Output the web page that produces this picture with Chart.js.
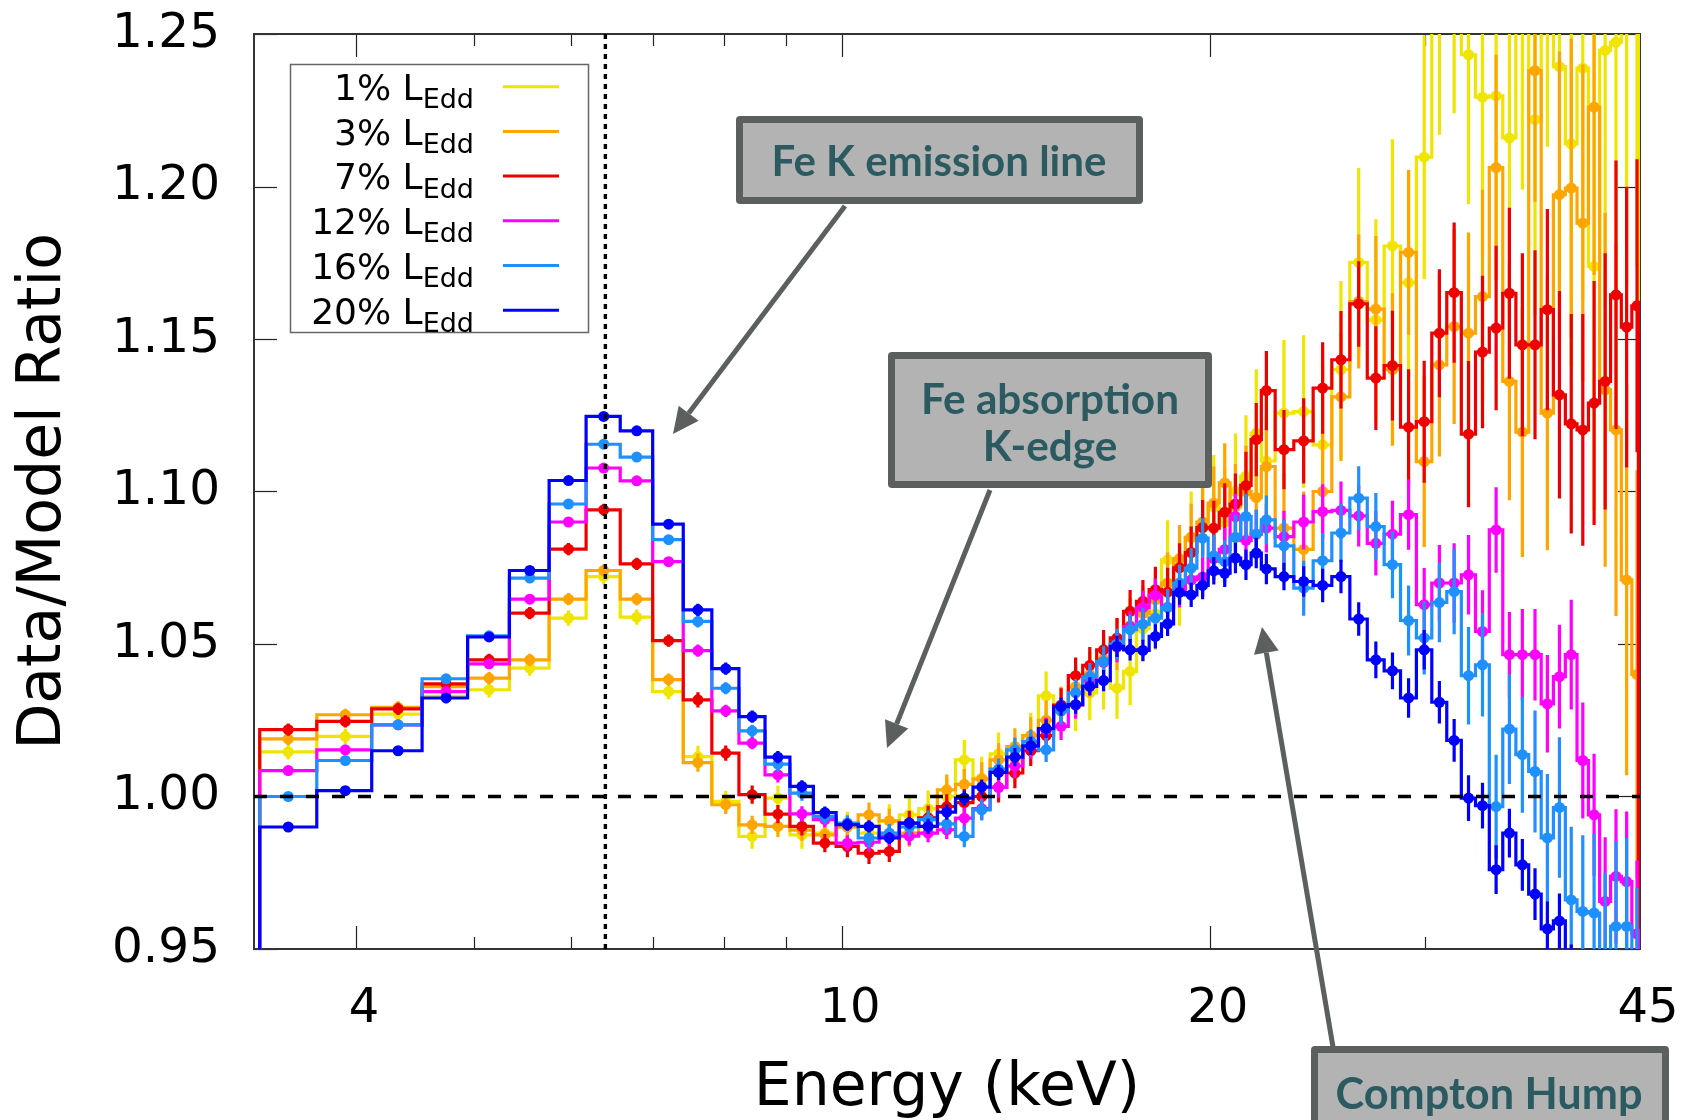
<!DOCTYPE html>
<html><head><meta charset="utf-8">
<script src="https://cdn.jsdelivr.net/npm/chart.js@4.4.1/dist/chart.umd.min.js"></script>
<style>html,body{margin:0;padding:0;background:#fff;}canvas{display:block;}</style>
</head><body>
<canvas id="c" width="1687" height="1120"></canvas>
<script>
// ---------- data ----------
const ENERGY = [3.52,3.92,4.33,4.74,5.14,5.55,5.97,6.38,6.79,7.21,
 7.62,8.03,8.44,8.86,9.27,9.68,10.10,10.52,10.93,11.35,
 11.76,12.18,12.59,13.01,13.43,13.85,14.27,14.69,15.11,15.53,
 15.95,16.37,16.79,17.21,17.63,18.05,18.47,18.89,19.31,19.73,
 20.15,20.57,20.99,21.41,21.83,22.25,23.00,23.87,24.74,25.61,
 26.48,27.35,28.22,29.09,29.96,30.83,31.70,32.57,33.44,34.31,
 35.18,36.05,36.92,37.79,38.66,39.53,40.40,41.27,42.14,43.01,
 43.88,44.75];

const SERIES_LABELS = ['1%','3%','7%','12%','16%','20%'];
const SERIES_COLORS = ['#efe500','#ffa500','#ee0000','#ff00ff','#1e90ff','#0000ff'];

const RATIO_1 = [1.0146,1.0197,1.0270,1.0328,1.0350,1.0421,1.0585,1.0721,1.0588,1.0344,
 1.0131,0.9984,0.9869,0.9995,0.9874,0.9880,0.9900,0.9880,0.9920,0.9940,
 0.9960,1.0000,1.0120,1.0060,1.0140,1.0120,1.0200,1.0330,1.0280,1.0300,
 1.0340,1.0380,1.0355,1.0410,1.0550,1.0600,1.0776,1.0700,1.0850,1.0880,
 1.0950,1.0900,1.1000,1.1050,1.1191,1.1100,1.1257,1.1262,1.1153,1.1400,
 1.1751,1.1563,1.1805,1.1685,1.2096,1.2600,1.2700,1.2432,1.2293,1.2297,
 1.2159,1.2600,1.2219,1.2800,1.2393,1.2140,1.2388,1.1738,1.2446,1.2473,
 1.2600,1.2700];
const ERR_1 = [0.0025,0.0025,0.0025,0.0025,0.0025,0.0025,0.0025,0.0025,0.0025,0.0025,
 0.0035,0.0035,0.004,0.004,0.0045,0.0045,0.005,0.005,0.0055,0.0055,
 0.006,0.006,0.0065,0.007,0.007,0.0075,0.0075,0.008,0.008,0.0085,
 0.009,0.0095,0.010,0.011,0.011,0.012,0.013,0.014,0.015,0.016,
 0.017,0.018,0.019,0.020,0.021,0.022,0.024,0.025,0.027,0.029,
 0.031,0.033,0.035,0.037,0.040,0.043,0.046,0.049,0.052,0.055,
 0.058,0.061,0.064,0.067,0.070,0.073,0.076,0.080,0.084,0.088,
 0.092,0.096];

const RATIO_3 = [1.0189,1.0268,1.0292,1.0360,1.0388,1.0448,1.0647,1.0741,1.0647,1.0383,
 1.0111,0.9973,0.9907,0.9902,0.9890,0.9874,0.9900,0.9940,0.9920,0.9880,
 0.9930,1.0022,1.0040,1.0057,1.0120,1.0164,1.0200,1.0250,1.0290,1.0360,
 1.0400,1.0450,1.0500,1.0560,1.0600,1.0645,1.0700,1.0780,1.0850,1.0900,
 1.0962,1.1028,1.0950,1.1000,1.0980,1.1082,1.0880,1.0810,1.1000,1.1310,
 1.1623,1.1598,1.1400,1.1784,1.1098,1.1415,1.1541,1.1519,1.1639,1.2062,
 1.1361,1.1195,1.2380,1.1257,1.1973,1.1995,1.1880,1.2260,1.1333,1.1202,
 1.0710,1.0400];
const ERR_3 = [0.002,0.002,0.002,0.002,0.002,0.002,0.002,0.002,0.002,0.002,
 0.003,0.003,0.003,0.0035,0.0035,0.0035,0.004,0.004,0.004,0.0045,
 0.0045,0.005,0.005,0.0055,0.0055,0.006,0.006,0.0065,0.007,0.007,
 0.0075,0.008,0.0085,0.009,0.009,0.0095,0.010,0.011,0.011,0.012,
 0.012,0.013,0.014,0.015,0.016,0.017,0.018,0.019,0.020,0.021,
 0.022,0.024,0.025,0.027,0.028,0.030,0.032,0.033,0.035,0.037,
 0.039,0.041,0.043,0.045,0.047,0.049,0.052,0.055,0.058,0.061,
 0.064,0.067];

const RATIO_7 = [1.0219,1.0246,1.0287,1.0369,1.0448,1.0601,1.0811,1.0940,1.0763,1.0511,
 1.0317,1.0142,1.0006,0.9942,0.9902,0.9847,0.9836,0.9814,0.9820,0.9913,
 0.9930,0.9967,0.9980,1.0000,1.0030,1.0077,1.0150,1.0200,1.0300,1.0396,
 1.0430,1.0481,1.0520,1.0607,1.0640,1.0678,1.0670,1.0750,1.0800,1.0882,
 1.0880,1.0932,1.0959,1.1020,1.1170,1.1331,1.1137,1.1166,1.1339,1.1432,
 1.1615,1.1372,1.1413,1.1211,1.1229,1.1519,1.1652,1.1188,1.1457,1.1536,
 1.1650,1.1481,1.1481,1.1596,1.1317,1.1222,1.1202,1.1290,1.1361,1.1645,
 1.1539,1.1609];
const ERR_7 = [0.002,0.002,0.002,0.002,0.002,0.002,0.002,0.002,0.002,0.002,
 0.0025,0.0025,0.003,0.003,0.003,0.003,0.0035,0.0035,0.0035,0.004,
 0.004,0.004,0.0045,0.0045,0.005,0.005,0.005,0.0055,0.0055,0.006,
 0.006,0.0065,0.0065,0.007,0.007,0.0075,0.008,0.008,0.0085,0.009,
 0.009,0.0095,0.010,0.011,0.012,0.013,0.013,0.014,0.015,0.016,
 0.014,0.017,0.018,0.019,0.020,0.021,0.023,0.024,0.025,0.027,
 0.028,0.030,0.031,0.033,0.034,0.036,0.038,0.040,0.042,0.044,
 0.046,0.048];

const RATIO_12 = [1.0085,1.0153,1.0235,1.0344,1.0435,1.0647,1.0900,1.1077,1.1035,1.0770,
 1.0478,1.0281,1.0175,1.0071,0.9943,0.9924,0.9847,0.9850,0.9870,0.9870,
 0.9880,0.9891,0.9929,0.9960,1.0030,1.0100,1.0164,1.0219,1.0230,1.0300,
 1.0380,1.0440,1.0490,1.0557,1.0620,1.0660,1.0620,1.0680,1.0710,1.0720,
 1.0780,1.0810,1.0918,1.0840,1.0860,1.0880,1.0852,1.0900,1.0934,1.0938,
 1.0920,1.0830,1.0860,1.0924,1.0629,1.0700,1.0700,1.0727,1.0541,1.0874,
 1.0465,1.0465,1.0465,1.0304,1.0393,1.0465,1.0118,0.9940,0.9656,0.9738,
 0.9721,0.9550];
const ERR_12 = [0.0015,0.0015,0.0015,0.0015,0.0015,0.0015,0.0015,0.0015,0.0015,0.0015,
 0.002,0.002,0.002,0.0025,0.0025,0.0025,0.0025,0.003,0.003,0.003,
 0.003,0.003,0.0035,0.0035,0.0035,0.004,0.004,0.004,0.0045,0.0045,
 0.0045,0.005,0.005,0.005,0.0055,0.0055,0.006,0.006,0.0065,0.0065,
 0.007,0.007,0.0075,0.0075,0.008,0.008,0.0085,0.009,0.009,0.0095,
 0.010,0.0105,0.011,0.0115,0.012,0.0125,0.013,0.013,0.0135,0.014,
 0.014,0.015,0.015,0.016,0.017,0.018,0.019,0.020,0.021,0.022,
 0.023,0.024];

const RATIO_16 = [1.0000,1.0118,1.0235,1.0386,1.0527,1.0716,1.0959,1.1155,1.1113,1.0842,
 1.0574,1.0355,1.0215,1.0106,1.0011,0.9934,0.9913,0.9864,0.9880,0.9900,
 0.9924,0.9910,0.9869,0.9956,1.0090,1.0153,1.0180,1.0153,1.0280,1.0340,
 1.0393,1.0443,1.0500,1.0547,1.0565,1.0585,1.0620,1.0700,1.0749,1.0847,
 1.0789,1.0770,1.0850,1.0918,1.0860,1.0907,1.0822,1.0683,1.0773,1.0864,
 1.0978,1.0885,1.0760,1.0577,1.0520,1.0636,1.0672,1.0396,1.0432,0.9967,
 1.0221,1.0137,1.0082,0.9864,0.9964,0.9661,0.9623,0.9618,0.9480,0.9574,
 0.9574,0.9400];
const ERR_16 = [0.0015,0.0015,0.0015,0.0015,0.0015,0.0015,0.0015,0.0015,0.0015,0.0015,
 0.002,0.002,0.002,0.0025,0.0025,0.0025,0.0025,0.003,0.003,0.003,
 0.003,0.003,0.0035,0.0035,0.0035,0.004,0.004,0.004,0.0045,0.0045,
 0.0045,0.005,0.005,0.005,0.0055,0.0055,0.006,0.006,0.0065,0.0065,
 0.007,0.007,0.0075,0.0075,0.008,0.008,0.0085,0.009,0.009,0.0095,
 0.0105,0.011,0.011,0.0115,0.012,0.013,0.014,0.016,0.017,0.017,
 0.018,0.019,0.020,0.021,0.023,0.024,0.025,0.026,0.027,0.028,
 0.029,0.030];

const RATIO_20 = [0.9900,1.0019,1.0150,1.0323,1.0523,1.0741,1.1036,1.1246,1.1199,1.0893,
 1.0612,1.0419,1.0262,1.0129,1.0033,0.9947,0.9908,0.9902,0.9864,0.9913,
 0.9902,0.9949,0.9995,1.0031,1.0079,1.0129,1.0166,1.0223,1.0295,1.0301,
 1.0361,1.0380,1.0492,1.0481,1.0479,1.0525,1.0566,1.0669,1.0661,1.0692,
 1.0740,1.0732,1.0782,1.0760,1.0798,1.0746,1.0721,1.0705,1.0692,1.0721,
 1.0582,1.0448,1.0412,1.0323,1.0481,1.0309,1.0184,0.9995,0.9970,0.9760,
 0.9880,0.9776,0.9680,0.9566,0.9592,0.9420,0.9380,0.9300,0.9350,0.9300,
 0.9250,0.9200];
const ERR_20 = [0.0015,0.0015,0.0015,0.0015,0.0015,0.0015,0.0015,0.0015,0.0015,0.0015,
 0.002,0.002,0.002,0.002,0.002,0.002,0.002,0.002,0.002,0.002,
 0.0025,0.0025,0.0025,0.0025,0.0025,0.003,0.003,0.003,0.003,0.003,
 0.003,0.0035,0.0035,0.0035,0.0035,0.004,0.004,0.004,0.004,0.0045,
 0.0045,0.0045,0.005,0.005,0.005,0.005,0.0045,0.005,0.0055,0.0055,
 0.0055,0.006,0.006,0.0065,0.0065,0.007,0.007,0.0075,0.0075,0.008,
 0.008,0.0085,0.0085,0.009,0.009,0.0095,0.0095,0.010,0.010,0.0105,
 0.011,0.011];

const RATIOS = [RATIO_1,RATIO_3,RATIO_7,RATIO_12,RATIO_16,RATIO_20];
const ERRORS = [ERR_1,ERR_3,ERR_7,ERR_12,ERR_16,ERR_20];

const X_TICKS = [4,5,6,7,8,9,10,20,30,45];
const X_TICK_TEXT = ['4','','','','','','10','20','','45'];
const Y_MIN = 0.95, Y_MAX = 1.25, Y_STEP = 0.05;
const FE_LINE_KEV = 6.4;
const REF_RATIO = 1.0;

// ---------- chart ----------
Chart.defaults.font.family = "'DejaVu Sans', sans-serif";
Chart.defaults.color = '#000';

const datasets = RATIOS.map((vals, k) => ({
  label: SERIES_LABELS[k] + ' L_Edd',
  data: ENERGY.map((e, i) => ({x: e, y: vals[i]})),
  errors: ERRORS[k],
  borderColor: SERIES_COLORS[k],
  backgroundColor: SERIES_COLORS[k],
  pointBackgroundColor: SERIES_COLORS[k],
  pointBorderWidth: 0,
  pointRadius: 5.5,
  borderWidth: 3.2,
  stepped: 'middle',
  fill: false,
  order: 6 - k
}));

const errorBarPlugin = {
  id: 'errbars',
  afterDatasetDraw(chart, args) {
    const {ctx, chartArea: a, scales: {y}} = chart;
    const meta = args.meta;
    const ds = chart.data.datasets[args.index];
    const pts = meta.data;
    ctx.save();
    ctx.beginPath();
    ctx.rect(a.left, a.top, a.right - a.left, a.bottom - a.top);
    ctx.clip();
    ctx.strokeStyle = ds.borderColor;
    ctx.lineWidth = 3.2;
    ctx.beginPath();
    ds.data.forEach((d, i) => {
      const e = ds.errors[i];
      const px = pts[i].x;
      ctx.moveTo(px, y.getPixelForValue(d.y - e));
      ctx.lineTo(px, y.getPixelForValue(d.y + e));
    });
    ctx.stroke();
    // histogram end half-bins and drops
    const n = pts.length;
    let xl = pts[0].x - (pts[1].x - pts[0].x) / 2;
    xl = Math.max(xl, a.left + 1.6);
    let xr = pts[n - 1].x + (pts[n - 1].x - pts[n - 2].x) / 2;
    xr = Math.min(xr, a.right - 1.6);
    ctx.beginPath();
    ctx.moveTo(xl, a.bottom + 10);
    ctx.lineTo(xl, pts[0].y);
    ctx.lineTo(pts[0].x, pts[0].y);
    ctx.moveTo(pts[n - 1].x, pts[n - 1].y);
    ctx.lineTo(xr, pts[n - 1].y);
    ctx.lineTo(xr, a.bottom + 10);
    ctx.stroke();
    ctx.restore();
  }
};

function line(ctx, x1, y1, x2, y2) { ctx.beginPath(); ctx.moveTo(x1, y1); ctx.lineTo(x2, y2); ctx.stroke(); }

const framePlugin = {
  id: 'frame',
  beforeDatasetsDraw(chart) {
    const {ctx, chartArea: a, scales: {x, y}} = chart;
    ctx.save();
    ctx.strokeStyle = '#222';
    ctx.lineWidth = 1.2;
    x.ticks.forEach((t, i) => {
      if (t.value >= 45) return;
      const px = Math.round(x.getPixelForValue(t.value)) + 0.5;
      const len = X_TICK_TEXT[i] ? 23 : 12;
      line(ctx, px, a.bottom, px, a.bottom - len);
      line(ctx, px, a.top, px, a.top + len);
    });
    y.ticks.forEach(t => {
      const py = Math.round(y.getPixelForValue(t.value)) + 0.5;
      line(ctx, a.left, py, a.left + 23, py);
      line(ctx, a.right, py, a.right - 22, py);
    });
    ctx.lineWidth = 2;
    ctx.strokeStyle = '#333';
    ctx.strokeRect(a.left, a.top, a.right - a.left, a.bottom - a.top);
    ctx.restore();
  },
  afterDatasetsDraw(chart) {
    const {ctx, chartArea: a, scales: {x, y}} = chart;
    ctx.save();
    ctx.strokeStyle = '#000';
    ctx.lineWidth = 3.6;
    ctx.setLineDash([13, 13]);
    const py = y.getPixelForValue(REF_RATIO);
    line(ctx, a.left, py, a.right, py);
    ctx.lineWidth = 3.4;
    ctx.setLineDash([5, 5]);
    const px = x.getPixelForValue(FE_LINE_KEV);
    line(ctx, px, a.top, px, a.bottom);
    ctx.restore();
  }
};

function arrow(ctx, x1, y1, x2, y2) {
  const ang = Math.atan2(y2 - y1, x2 - x1);
  const hl = 26, hw = 12.5;
  const bx = x2 - hl * Math.cos(ang), by = y2 - hl * Math.sin(ang);
  ctx.lineWidth = 5;
  ctx.beginPath(); ctx.moveTo(x1, y1); ctx.lineTo(bx, by); ctx.stroke();
  ctx.beginPath();
  ctx.moveTo(x2, y2);
  ctx.lineTo(bx + hw * Math.sin(ang), by - hw * Math.cos(ang));
  ctx.lineTo(bx - hw * Math.sin(ang), by + hw * Math.cos(ang));
  ctx.closePath(); ctx.fill();
}

function box(ctx, x1, y1, x2, y2) {
  const t = 7;
  ctx.fillStyle = '#5b605f';
  ctx.beginPath(); ctx.roundRect(x1, y1, x2 - x1, y2 - y1, 4); ctx.fill();
  ctx.fillStyle = '#b3b3b3';
  ctx.fillRect(x1 + t, y1 + t, x2 - x1 - 2 * t, y2 - y1 - 2 * t);
}

function fitFont(ctx, text, targetW) {
  ctx.font = "bold 40px Lato, 'Open Sans', sans-serif";
  const w = ctx.measureText(text).width;
  return 40 * targetW / w;
}

const overlayPlugin = {
  id: 'overlay',
  afterDraw(chart) {
    const ctx = chart.ctx;
    ctx.save();
    // legend
    ctx.fillStyle = '#fff';
    ctx.fillRect(290, 64, 299, 269);
    ctx.strokeStyle = '#666';
    ctx.lineWidth = 1.5;
    ctx.strokeRect(290.5, 64.5, 298, 268);
    SERIES_LABELS.forEach((lab, k) => {
      const base = 100 + 44.7 * k;
      ctx.font = "27px 'DejaVu Sans'";
      const ws = ctx.measureText('Edd').width;
      ctx.fillStyle = '#000';
      ctx.textBaseline = 'alphabetic';
      ctx.textAlign = 'left';
      ctx.fillText('Edd', 474 - ws, base + 8.3);
      ctx.font = "36px 'DejaVu Sans'";
      ctx.textAlign = 'right';
      ctx.fillText(lab + ' L', 474 - ws, base);
      ctx.strokeStyle = SERIES_COLORS[k];
      ctx.lineWidth = 3;
      line(ctx, 503, 86.7 + 44.7 * k, 559, 86.7 + 44.7 * k);
    });
    // arrows
    ctx.strokeStyle = '#5b605f';
    ctx.fillStyle = '#5b605f';
    arrow(ctx, 845, 206, 673, 434);
    arrow(ctx, 990, 490, 887, 748);
    arrow(ctx, 1333, 1047, 1262, 627);
    // boxes
    box(ctx, 736, 116, 1143, 204);
    box(ctx, 888, 352, 1212, 488);
    box(ctx, 1311, 1046, 1669, 1150);
    ctx.fillStyle = '#2b5b61';
    ctx.textAlign = 'center';
    ctx.textBaseline = 'middle';
    let s = fitFont(ctx, 'Fe K emission line', 335);
    ctx.font = `bold ${s}px Lato, 'Open Sans', sans-serif`;
    ctx.fillText('Fe K emission line', 939, 162);
    s = fitFont(ctx, 'Fe absorption', 258);
    ctx.font = `bold ${s}px Lato, 'Open Sans', sans-serif`;
    ctx.fillText('Fe absorption', 1050, 400);
    ctx.fillText('K-edge', 1050, 447);
    s = fitFont(ctx, 'Compton Hump', 307);
    ctx.font = `bold ${s}px Lato, 'Open Sans', sans-serif`;
    ctx.fillText('Compton Hump', 1489, 1095);
    ctx.restore();
  }
};

new Chart(document.getElementById('c'), {
  type: 'line',
  data: {datasets},
  options: {
    responsive: false,
    animation: false,
    devicePixelRatio: 1,
    layout: {padding: {left: 0, right: 47, top: 34, bottom: 0}},
    plugins: {legend: {display: false}, tooltip: {enabled: false}},
    scales: {
      x: {
        type: 'logarithmic', min: 3.3, max: 45, position: 'bottom',
        afterBuildTicks: s => { s.ticks = X_TICKS.map(v => ({value: v})); },
        afterFit: s => { s.height = 171; s.paddingLeft = 0; s.paddingRight = 0; },
        ticks: {autoSkip: false, maxRotation: 0, minRotation: 0, padding: 32, labelOffset: 8,
          color: '#000', font: {size: 48},
          callback: (v, i) => X_TICK_TEXT[i]},
        grid: {display: false, drawTicks: false},
        border: {display: false},
        title: {display: true, text: 'Energy (keV)', color: '#000',
          font: {size: 60, lineHeight: 1.0}, padding: {top: 0, bottom: 1}}
      },
      y: {
        min: Y_MIN, max: Y_MAX,
        afterFit: s => { s.width = 254; s.paddingTop = 0; s.paddingBottom = 0; },
        ticks: {stepSize: Y_STEP, padding: 34, color: '#000', font: {size: 48.5},
          callback: v => v.toFixed(2)},
        grid: {display: false, drawTicks: false},
        border: {display: false},
        title: {display: true, text: 'Data/Model Ratio', color: '#000',
          font: {size: 60, lineHeight: 1.2}, padding: {top: 8, bottom: 0}}
      }
    }
  },
  plugins: [framePlugin, errorBarPlugin, overlayPlugin]
});
</script>
</body></html>
